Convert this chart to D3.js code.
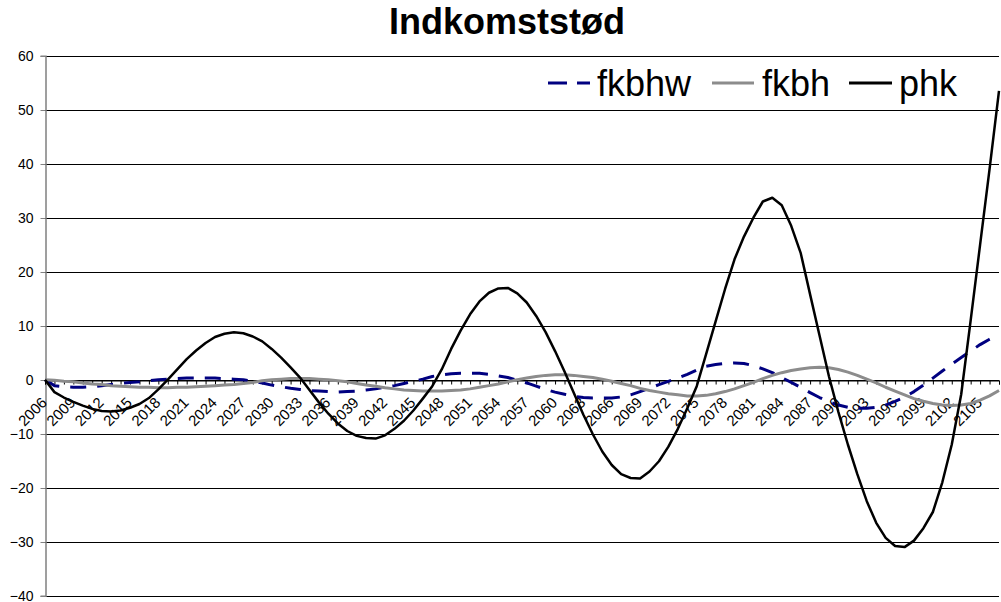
<!DOCTYPE html>
<html>
<head>
<meta charset="utf-8">
<script src="https://cdn.jsdelivr.net/npm/d3@7"></script>
<style>
  html, body { margin: 0; padding: 0; background: #fff; }
  svg { display: block; }
  text { font-family: "Liberation Sans", Arial, sans-serif; }
</style>
</head>
<body>
<script>
const years = d3.range(2006, 2108);
const yTicks = [-40, -30, -20, -10, 0, 10, 20, 30, 40, 50, 60];
const seriesNames = ["fkbhw", "fkbh", "phk"];

const fkbhw = [
  0, -1.1, -1.3, -1.4, -1.4, -1.3, -1.1, -0.9, -0.7, -0.5,
  -0.4, -0.2, 0.0, 0.1, 0.2, 0.3, 0.3, 0.3, 0.3, 0.2,
  0.1, 0.0, -0.3, -0.6, -1.0, -1.3, -1.6, -1.8, -2.0, -2.1,
  -2.2, -2.3, -2.2, -2.1, -1.9, -1.7, -1.4, -1.1, -0.7, -0.3,
  0.1, 0.6, 0.9, 1.1, 1.2, 1.2, 1.2, 1.0, 0.7, 0.4,
  -0.1, -0.6, -1.2, -1.8, -2.3, -2.7, -3.1, -3.3, -3.4, -3.4,
  -3.4, -3.2, -2.8, -2.2, -1.6, -0.9, -0.3, 0.3, 1.0, 1.8,
  2.5, 2.8, 3.0, 3.1, 3.0, 2.6, 2.0, 1.3, 0.4, -0.5,
  -1.4, -2.4, -3.3, -4.1, -4.7, -5.1, -5.3, -5.3, -5.1, -4.7,
  -4.0, -3.2, -2.2, -1.0, 0.3, 1.6, 2.9, 4.1, 5.3, 6.5,
  7.5, 8.4
];

const fkbh = [
  0, -0.1, -0.3, -0.4, -0.6, -0.8, -0.9, -1.1, -1.2, -1.3,
  -1.4, -1.4, -1.5, -1.5, -1.4, -1.4, -1.3, -1.2, -1.1, -1.0,
  -0.9, -0.7, -0.5, -0.2, 0.0, 0.1, 0.2, 0.2, 0.2, 0.1,
  0.0, -0.2, -0.4, -0.7, -1.0, -1.2, -1.5, -1.7, -1.9, -2.0,
  -2.1, -2.1, -2.1, -2.0, -1.9, -1.7, -1.4, -1.1, -0.8, -0.4,
  0.0, 0.3, 0.6, 0.8, 0.9, 0.9, 0.8, 0.6, 0.4, 0.1,
  -0.3, -0.7, -1.1, -1.6, -2.0, -2.3, -2.6, -2.8, -3.0, -3.0,
  -2.9, -2.6, -2.2, -1.7, -1.1, -0.5, 0.2, 0.8, 1.3, 1.7,
  2.0, 2.2, 2.3, 2.2, 1.9, 1.4, 0.8, 0.1, -0.6, -1.4,
  -2.1, -2.8, -3.5, -4.0, -4.4, -4.7, -4.8, -4.7, -4.4, -3.8,
  -3.0, -2.0
];

const phk = [
  0, -2.3, -3.3, -4.1, -4.8, -5.4, -5.8, -5.9, -5.7, -5.2,
  -4.5, -3.4, -1.8, 0.0, 1.9, 3.8, 5.4, 6.8, 7.9, 8.5,
  8.8, 8.6, 8.0, 7.1, 5.7, 4.1, 2.3, 0.4, -1.9, -4.2,
  -6.3, -8.1, -9.5, -10.4, -10.8, -10.9, -10.3, -9.1, -7.6, -5.7,
  -3.5, -1.2, 1.9, 5.7, 9.1, 12.1, 14.5, 16.1, 16.9, 17.0,
  16.0, 14.3, 11.8, 8.8, 5.3, 1.5, -2.5, -6.5, -10.1, -13.3,
  -15.8, -17.5, -18.2, -18.3, -17.0, -15.1, -12.4, -9.1, -5.3, -1.2,
  4.8, 10.8, 16.8, 22.3, 26.5, 30.0, 33.0, 33.7, 32.3, 28.5,
  23.5, 15.8, 8.2, 0.6, -6.0, -12.0, -17.5, -22.5, -26.5, -29.3,
  -30.8, -31.0, -29.8, -27.5, -24.5, -19.0, -12.0, -2.7, 11.0, 25.0,
  39.0, 53.5
];

const W = 1001, H = 602;
const svg = d3.select("body").append("svg").attr("width", W).attr("height", H);

const x = d3.scalePoint().domain(years).range([45, 999]).padding(0);
const y = d3.scaleLinear().domain([-40, 60]).range([595.7, 55.7]);

// gridlines
svg.append("g").selectAll("line").data(yTicks).join("line")
  .attr("x1", 45).attr("x2", 999)
  .attr("y1", d => Math.round(y(d)) + 0.5).attr("y2", d => Math.round(y(d)) + 0.5)
  .attr("stroke", "#000").attr("stroke-width", 1);

// y axis
const yAxis = svg.append("g").attr("transform", "translate(45.5,0)")
  .call(d3.axisLeft(y).tickValues(yTicks).tickSize(5).tickPadding(7).tickFormat(d3.format("d")));
yAxis.select(".domain").attr("stroke", "#808080").attr("stroke-width", 1.5);
yAxis.selectAll(".tick line").attr("stroke", "#808080");
yAxis.selectAll(".tick text").attr("font-size", 14).attr("fill", "#000")
  .attr("font-family", "'Liberation Sans', Arial, sans-serif");
yAxis.selectAll(".tick").attr("transform", d => `translate(0,${Math.round(y(d)) + 0.5})`);

// x axis at zero
const y0 = Math.round(y(0)) + 0.5;
const xAxis = svg.append("g").attr("transform", `translate(0,${y0})`)
  .call(d3.axisBottom(x).tickSize(4).tickFormat(""));
xAxis.select(".domain").attr("stroke", "#000").attr("stroke-width", 1);
xAxis.selectAll(".tick line").attr("stroke", "#000");

// x labels
const labelYears = years.filter((d, i) => i % 3 === 0 && d <= 2105);
svg.append("g").selectAll("text").data(labelYears).join("text")
  .attr("transform", d => `translate(${x(d) + 3},${y0 + 23}) rotate(-45)`)
  .attr("text-anchor", "end")
  .attr("font-size", 15)
  .attr("fill", "#000")
  .text(d => d);

// lines
const line = d3.line().x((d, i) => x(years[i])).y(d => y(d));
const styles = {
  fkbhw: { data: fkbhw, color: "#000080", width: 3, dash: "16,11" },
  fkbh: { data: fkbh, color: "#8c8c8c", width: 3, dash: null },
  phk: { data: phk, color: "#000", width: 2.5, dash: null }
};
seriesNames.forEach(n => {
  const s = styles[n];
  svg.append("path").datum(s.data)
    .attr("d", line)
    .attr("fill", "none")
    .attr("stroke", s.color)
    .attr("stroke-width", s.width)
    .attr("stroke-dasharray", s.dash)
    .attr("stroke-linejoin", "round");
});

// title
svg.append("text").attr("x", 507).attr("y", 34)
  .attr("text-anchor", "middle").attr("font-size", 36).attr("font-weight", "bold")
  .text("Indkomststød");

// legend
const legendItems = [
  { name: "fkbhw", x1: 548, x2: 590, tx: 597 },
  { name: "fkbh", x1: 712, x2: 754, tx: 762 },
  { name: "phk", x1: 849, x2: 892, tx: 899 }
];
const lg = svg.append("g");
legendItems.forEach(it => {
  const s = styles[it.name];
  lg.append("line").attr("x1", it.x1).attr("x2", it.x2).attr("y1", 83).attr("y2", 83)
    .attr("stroke", s.color).attr("stroke-width", 3)
    .attr("stroke-dasharray", it.name === "fkbhw" ? "19,10" : null);
  lg.append("text").attr("x", it.tx).attr("y", 96).attr("font-size", 36).attr("fill", "#000").text(it.name);
});
</script>
</body>
</html>
